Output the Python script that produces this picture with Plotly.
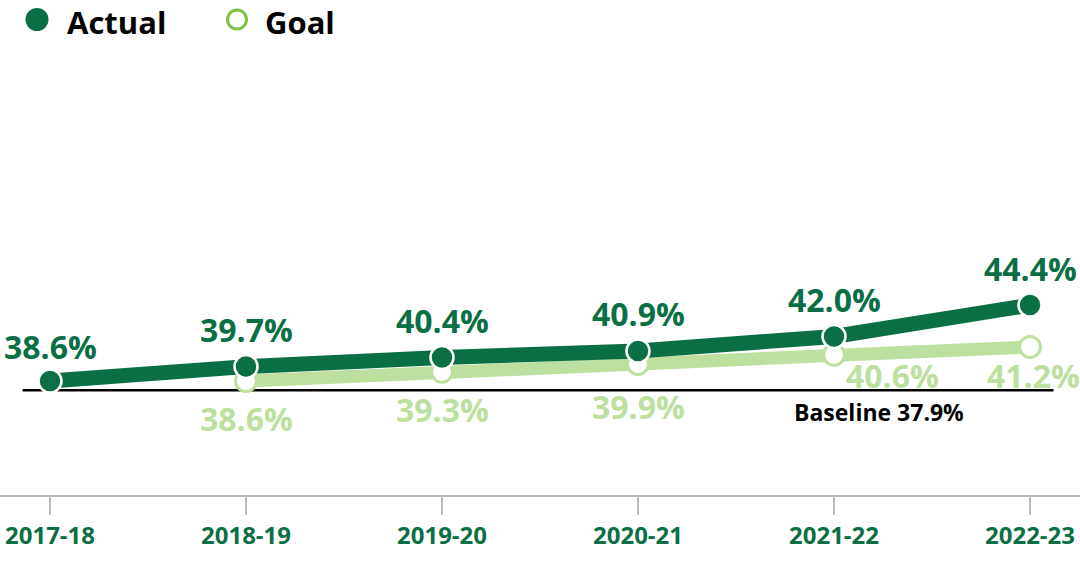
import plotly.graph_objects as go

years = ["2017-18", "2018-19", "2019-20", "2020-21", "2021-22", "2022-23"]
actual = [38.6, 39.7, 40.4, 40.9, 42.0, 44.4]
goal = [None, 38.6, 39.3, 39.9, 40.6, 41.2]
baseline = 37.9
legend_names = ["Actual", "Goal"]

DARK = "#0b6f46"
LIGHT = "#bddfa0"
LEG_GOAL = "#7dc242"
FONT = "Open Sans"

W, H = 1080, 579
B = 84
PH = H - B

fig = go.Figure()

# Goal line
fig.add_trace(go.Scatter(
    x=years, y=goal, mode="lines+markers", name="Goal", showlegend=False,
    line=dict(color=LIGHT, width=13),
    marker=dict(size=21, color="white", line=dict(color=LIGHT, width=3)),
))
# Actual line
fig.add_trace(go.Scatter(
    x=years, y=actual, mode="lines+markers", name="Actual", showlegend=False,
    line=dict(color=DARK, width=15),
    marker=dict(size=23, color=DARK, line=dict(color="white", width=2.5)),
))

# Baseline
fig.add_shape(type="line", xref="x", yref="y", x0=-0.14, x1=5.12,
              y0=baseline, y1=baseline, line=dict(color="black", width=2.5),
              layer="below")
fig.add_annotation(x=years[4], y=baseline, text="Baseline %.1f%%" % baseline,
                   showarrow=False, xshift=45, yshift=-22,
                   font=dict(family=FONT, size=23, color="black", weight="bold"))

# Actual labels
for i, (yr, v) in enumerate(zip(years, actual)):
    fig.add_annotation(x=yr, y=v, text="%.1f%%" % v, showarrow=False,
                       yshift=35 if i == 0 else 37,
                       font=dict(family=FONT, size=32, color=DARK, weight="bold"))

# Goal labels
goal_shifts = {1: (0, -37), 2: (0, -38), 3: (0, -42), 4: (58, -21), 5: (3, -29)}
for i, (yr, v) in enumerate(zip(years, goal)):
    if v is None:
        continue
    dx, dy = goal_shifts[i]
    fig.add_annotation(x=yr, y=v, text="%.1f%%" % v, showarrow=False,
                       xshift=dx, yshift=dy,
                       font=dict(family=FONT, size=32, color=LIGHT, weight="bold"))

# Manual legend (large symbols)
def px(xp):
    return xp / W

def py(yp):
    return 1 - yp / PH

fig.add_shape(type="circle", xref="paper", yref="paper",
              xsizemode="pixel", ysizemode="pixel",
              xanchor=px(37), yanchor=py(19.5),
              x0=-11.5, x1=11.5, y0=-11.5, y1=11.5,
              fillcolor=DARK, line=dict(width=0))
fig.add_shape(type="circle", xref="paper", yref="paper",
              xsizemode="pixel", ysizemode="pixel",
              xanchor=px(237), yanchor=py(19.5),
              x0=-9.5, x1=9.5, y0=-9.5, y1=9.5,
              fillcolor="white", line=dict(color=LEG_GOAL, width=3))
for name, lx in zip(legend_names, [66, 264]):
    fig.add_annotation(xref="paper", yref="paper", x=px(lx), y=1,
                       xanchor="left", yanchor="top", showarrow=False,
                       text=name, borderpad=0,
                       font=dict(family=FONT, size=31, color="black", weight="bold"))

fig.update_layout(
    width=W, height=H,
    margin=dict(l=0, r=0, t=0, b=B),
    plot_bgcolor="white", paper_bgcolor="white",
    showlegend=False,
    xaxis=dict(range=[-50 / 196, (W - 50) / 196], showgrid=False, zeroline=False,
               showline=True, linecolor="#bbbbbb", linewidth=1.5,
               ticks="outside", ticklen=18, tickcolor="#bbbbbb", tickwidth=1.5,
               tickfont=dict(family=FONT, size=24, color=DARK, weight="bold")),
    yaxis=dict(range=[29.9, 29.9 + PH / 13.1], visible=False,
               showgrid=False, zeroline=False),
)

fig.write_html(
    "out.html",
    config={"displayModeBar": False},
    post_script="document.body.style.margin='0';document.body.style.overflow='hidden';",
)
